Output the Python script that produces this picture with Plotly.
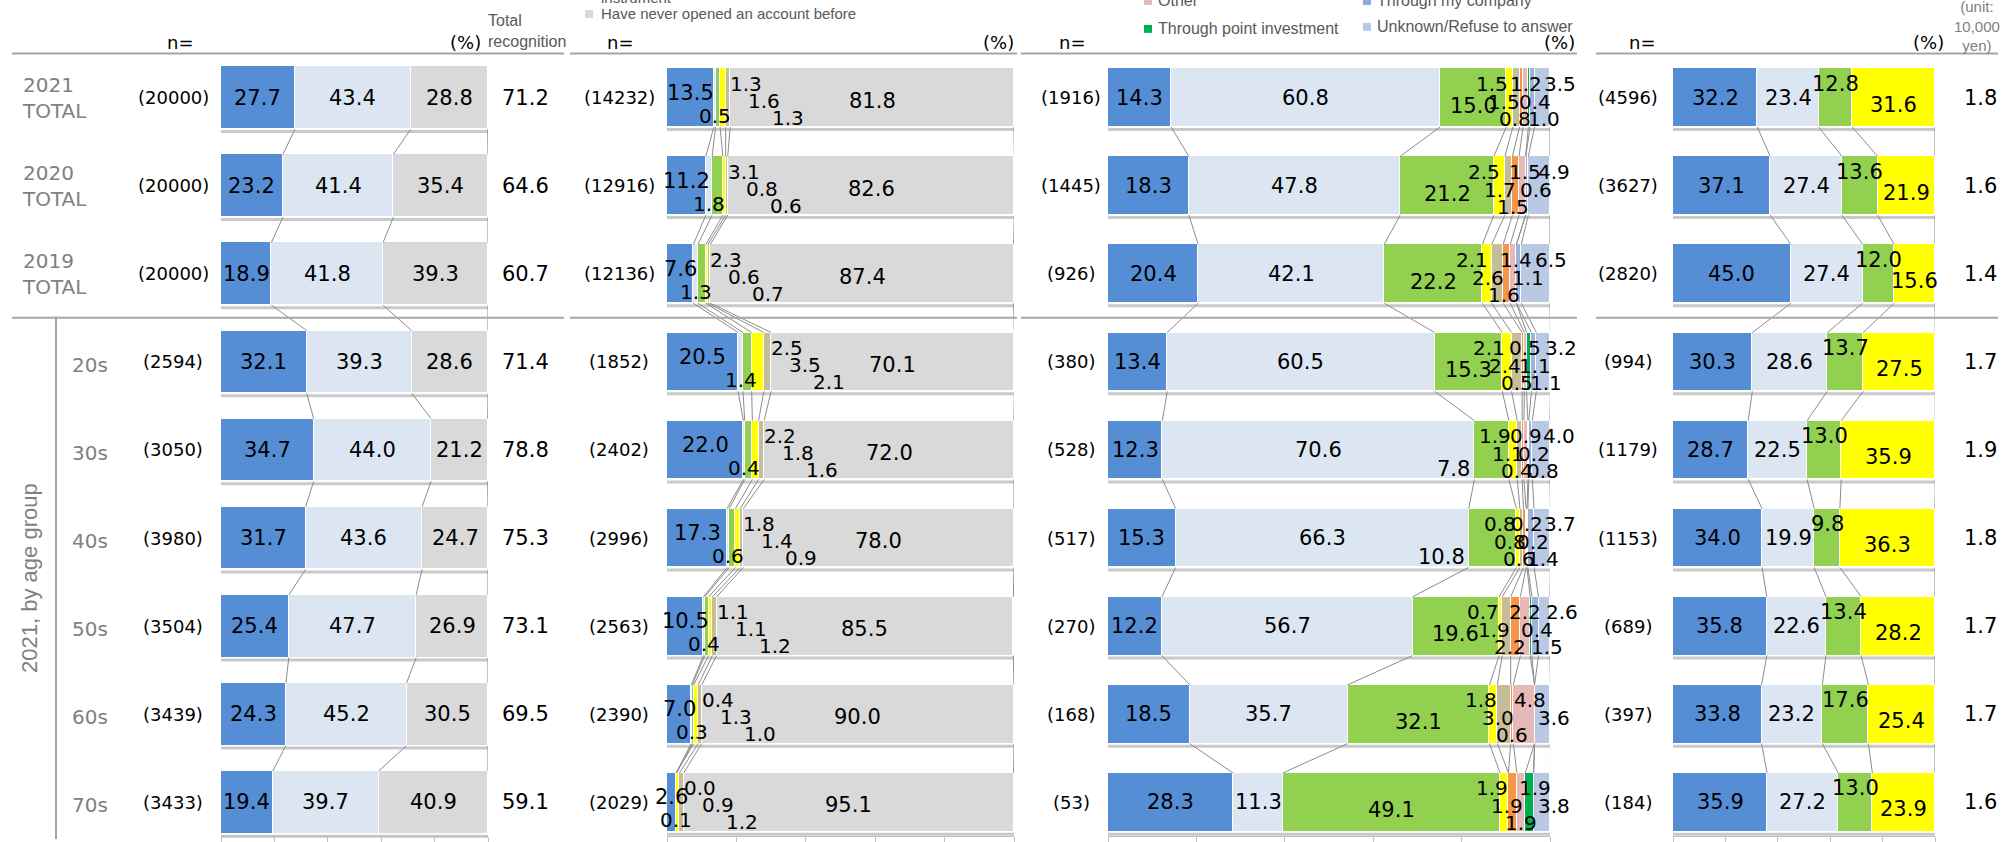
import plotly.graph_objects as go

W, H = 2008, 842
ROW0, PITCH = 98.0, 88.4          # pixel centre of first row, row pitch

NUM = "DejaVu Sans, Verdana, sans-serif"
NARROW = "Liberation Sans Narrow, Arial Narrow, Liberation Sans, Arial, sans-serif"
GREYTXT = "#808080"

# ---------------- data ----------------
row_labels = ["2021<br>TOTAL", "2020<br>TOTAL", "2019<br>TOTAL", "20s", "30s", "40s", "50s", "60s", "70s"]
group_label = "2021, by age group"

# panel 1 : recognition
p1_n = [20000, 20000, 20000, 2594, 3050, 3980, 3504, 3439, 3433]
p1_a = [27.7, 23.2, 18.9, 32.1, 34.7, 31.7, 25.4, 24.3, 19.4]
p1_b = [43.4, 41.4, 41.8, 39.3, 44.0, 43.6, 47.7, 45.2, 39.7]
p1_c = [28.8, 35.4, 39.3, 28.6, 21.2, 24.7, 26.9, 30.5, 40.9]
p1_total = [71.2, 64.6, 60.7, 71.4, 78.8, 75.3, 73.1, 69.5, 59.1]

# panel 2 : account opening
p2_n = [14232, 12916, 12136, 1852, 2402, 2996, 2563, 2390, 2029]
p2_a = [13.5, 11.2, 7.6, 20.5, 22.0, 17.3, 10.5, 7.0, 2.6]
p2_b = [0.5, 1.8, 1.3, 1.4, 0.4, 0.6, 0.4, 0.3, 0.1]
p2_c = [1.3, 3.1, 2.3, 2.5, 2.2, 1.8, 1.1, 0.4, 0.0]
p2_d = [1.6, 0.8, 0.6, 3.5, 1.8, 1.4, 1.1, 1.3, 0.9]
p2_e = [1.3, 0.6, 0.7, 2.1, 1.6, 0.9, 1.2, 1.0, 1.2]
p2_never = [81.8, 82.6, 87.4, 70.1, 72.0, 78.0, 85.5, 90.0, 95.1]

# panel 3 : route
p3_n = [1916, 1445, 926, 380, 528, 517, 270, 168, 53]
p3_a = [14.3, 18.3, 20.4, 13.4, 12.3, 15.3, 12.2, 18.5, 28.3]
p3_b = [60.8, 47.8, 42.1, 60.5, 70.6, 66.3, 56.7, 35.7, 11.3]
p3_c = [15.0, 21.2, 22.2, 15.3, 7.8, 10.8, 19.6, 32.1, 49.1]
p3_d = [1.5, 2.5, 2.1, 2.1, 1.9, 0.8, 0.7, 1.8, 1.9]
p3_e = [1.5, 1.7, 2.6, 2.4, 1.1, 0.8, 1.9, 3.0, None]
p3_f = [0.8, 1.5, 1.6, 0.5, 0.4, 0.6, 2.2, 0.6, 1.9]
p3_other = [1.2, 1.5, 1.4, 0.5, 0.9, 0.2, 2.2, 4.8, 1.9]
p3_point = [0.4, None, None, 1.1, 0.2, 0.2, 0.4, None, 1.9]
p3_company = [1.0, 0.6, 1.1, 1.1, 0.8, 1.4, 1.5, None, None]
p3_unknown = [3.5, 4.9, 6.5, 3.2, 4.0, 3.7, 2.6, 3.6, 3.8]

# panel 4 : amount
p4_n = [4596, 3627, 2820, 994, 1179, 1153, 689, 397, 184]
p4_a = [32.2, 37.1, 45.0, 30.3, 28.7, 34.0, 35.8, 33.8, 35.9]
p4_b = [23.4, 27.4, 27.4, 28.6, 22.5, 19.9, 22.6, 23.2, 27.2]
p4_c = [12.8, 13.6, 12.0, 13.7, 13.0, 9.8, 13.4, 17.6, 13.0]
p4_d = [31.6, 21.9, 15.6, 27.5, 35.9, 36.3, 28.2, 25.4, 23.9]
p4_unit = [1.8, 1.6, 1.4, 1.7, 1.9, 1.8, 1.7, 1.7, 1.6]

# ---------------- styles ----------------
BLUE, LBLUE, GREY = "#558ED5", "#DCE6F2", "#D9D9D9"
GREEN, YELLOW, TAN = "#92D050", "#FFFF00", "#C4BD97"
ORANGE, PINK, DGREEN = "#F79646", "#E6B9B8", "#00B050"
COMPANY, UNKNOWN = "#9DB3DC", "#B9C8E3"

rows = list(range(len(row_labels)))

panels = [
    dict(ax="x", px=(221, 488), line=(12, 564), n=p1_n, nx=173, pctx=465, nhx=180, bar=63,
         series=[(p1_a, BLUE), (p1_b, LBLUE), (p1_c, GREY)]),
    dict(ax="x2", px=(667, 1014), line=(570, 1017), n=p2_n, nx=619, pctx=998, nhx=620, bar=59,
         series=[(p2_a, BLUE), (p2_b, LBLUE), (p2_c, GREEN), (p2_d, YELLOW), (p2_e, TAN), (p2_never, GREY)]),
    dict(ax="x3", px=(1108, 1550), line=(1021, 1577), n=p3_n, nx=1071, pctx=1559, nhx=1072, bar=59,
         series=[(p3_a, BLUE), (p3_b, LBLUE), (p3_c, GREEN), (p3_d, YELLOW), (p3_e, TAN), (p3_f, ORANGE),
                 (p3_other, PINK), (p3_point, DGREEN), (p3_company, COMPANY), (p3_unknown, UNKNOWN)]),
    dict(ax="x4", px=(1673, 1935), line=(1596, 1998), n=p4_n, nx=1628, pctx=1928, nhx=1642, bar=59,
         series=[(p4_a, BLUE), (p4_b, LBLUE), (p4_c, GREEN), (p4_d, YELLOW)]),
]

fig = go.Figure()
annotations = []
shapes = []


def fmt(v):
    return f"{v:.1f}"


def pix_ann(text, px, py, size=18, color="#000000", family=NUM, xanchor="center",
            yanchor="middle", align="center", angle=0):
    return dict(text=text, x=px / W, y=1 - py / H, xref="paper", yref="paper", showarrow=False,
                font=dict(size=size, color=color, family=family), xanchor=xanchor,
                yanchor=yanchor, align=align, textangle=angle)


def dat_ann(text, ax, x, row, xanchor="center", xshift=0, yshift=0, size=21):
    return dict(text=text, x=x, y=row, xref=ax, yref="y", showarrow=False, xanchor=xanchor,
                yanchor="middle", xshift=xshift, yshift=yshift,
                font=dict(size=size, color="#000000", family=NUM))


axis_names = []
for k, p in enumerate(panels):
    ax = p["ax"]
    BW = p["bar"] / PITCH
    # bars
    for vals, col in p["series"]:
        fig.add_trace(go.Bar(y=rows, x=vals, orientation="h", xaxis=ax, yaxis="y", width=BW,
                             marker=dict(color=col, line=dict(color="white", width=1)),
                             hoverinfo="skip", showlegend=False))
    # connectors between consecutive rows
    cums = []
    for r in rows:
        c, acc = [], 0.0
        for vals, _ in p["series"]:
            acc += vals[r] or 0.0
            c.append(acc)
        cums.append(c)
    xs, ys = [], []
    for r in rows[:-1]:
        for j in range(len(p["series"])):
            xs += [cums[r][j], cums[r + 1][j], None]
            ys += [r + BW / 2, r + 1 - BW / 2, None]
    fig.add_trace(go.Scatter(x=xs, y=ys, mode="lines", xaxis=ax, yaxis="y",
                             line=dict(color="#8c8c8c", width=1), hoverinfo="skip", showlegend=False))
    # shadows under bars
    for r in rows:
        shapes.append(dict(type="line", xref=ax, yref="y", x0=0, x1=100,
                           y0=r + BW / 2 + 2.5 / PITCH, y1=r + BW / 2 + 2.5 / PITCH,
                           line=dict(color="#c9c9c9", width=3), layer="below"))
    # n labels
    for r in rows:
        annotations.append(pix_ann(f"({p['n'][r]})", p["nx"], ROW0 + PITCH * r, size=18))
    # header
    annotations.append(pix_ann("n=", p["nhx"], 43, size=18))
    annotations.append(pix_ann("(%)", p["pctx"], 43, size=18))
    # header line and separator
    for yv in (-0.5, 2.5):
        shapes.append(dict(type="line", xref="paper", yref="y", x0=p["line"][0] / W, x1=p["line"][1] / W,
                           y0=yv, y1=yv, line=dict(color="#a6a6a6", width=2)))
    axis_names.append(("xaxis" if k == 0 else f"xaxis{k + 1}", p["px"]))

# ---------- value labels ----------
# panel 1 : centred
for r in rows:
    acc = 0.0
    for vals, _ in panels[0]["series"]:
        annotations.append(dat_ann(fmt(vals[r]), "x", acc + vals[r] / 2, r))
        acc += vals[r]
    annotations.append(pix_ann(fmt(p1_total[r]), 525, ROW0 + PITCH * r, size=21))

# panel 2
LV2 = [14, -3, -20]
for r in rows:
    a, b = p2_a[r], p2_b[r]
    annotations.append(dat_ann(fmt(a), "x2", a / 2, r, yshift=5))
    annotations.append(dat_ann(fmt(b), "x2", a + b / 2, r, yshift=-18, size=20))
    small_end = a + b + p2_c[r] + p2_d[r] + p2_e[r]
    for k, (v, dx) in enumerate(zip([p2_c[r], p2_d[r], p2_e[r]], [0, 18, 42])):
        annotations.append(dat_ann(fmt(v), "x2", small_end, r, xanchor="left", xshift=dx - 2,
                                   yshift=LV2[k], size=20))
    annotations.append(dat_ann(fmt(p2_never[r]), "x2", small_end + p2_never[r] / 2, r, yshift=-3))

# panel 3
LV3 = [14, -4, -21]
small3 = [p3_d, p3_e, p3_f, p3_other, p3_point, p3_company, p3_unknown]
for r in rows:
    a, b, c = p3_a[r], p3_b[r], p3_c[r]
    annotations.append(dat_ann(fmt(a), "x3", a / 2, r))
    annotations.append(dat_ann(fmt(b), "x3", a + b / 2, r))
    if c >= 12:
        annotations.append(dat_ann(fmt(c), "x3", a + b + c / 2, r, yshift=-8))
    else:
        annotations.append(dat_ann(fmt(c), "x3", a + b, r, xanchor="right", xshift=-2, yshift=-19))
    items = []
    acc = a + b + c
    for s in small3:
        v = s[r]
        if v is None:
            continue
        items.append((v, acc + v / 2))
        acc += v
    m = len(items)
    for k, (v, xc) in enumerate(items):
        lvl = k % 3
        if k == m - 1 and lvl == 2:
            lvl = 0
        annotations.append(dat_ann(fmt(v), "x3", xc, r, xshift=(k - (m - 1) / 2) * 6,
                                   yshift=LV3[lvl], size=20))

# panel 4
for r in rows:
    a, b, c, d = p4_a[r], p4_b[r], p4_c[r], p4_d[r]
    annotations.append(dat_ann(fmt(a), "x4", a / 2, r))
    annotations.append(dat_ann(fmt(b), "x4", a + b / 2, r))
    annotations.append(dat_ann(fmt(c), "x4", a + b + c / 2, r, yshift=14))
    annotations.append(dat_ann(fmt(d), "x4", a + b + c + d / 2, r, yshift=-7))
    annotations.append(pix_ann(fmt(p4_unit[r]), 1980, ROW0 + PITCH * r, size=21))

# ---------- row labels ----------
for r in rows:
    if r < 3:
        annotations.append(pix_ann(row_labels[r], 20, ROW0 + PITCH * r, size=20, color=GREYTXT,
                                   xanchor="left", align="left"))
    else:
        annotations.append(pix_ann(row_labels[r], 70, ROW0 + PITCH * r + 3, size=20, color=GREYTXT,
                                   xanchor="left", align="left"))
annotations.append(pix_ann(group_label, 30, 580, size=22, color=GREYTXT, family=NARROW, angle=-90))
shapes.append(dict(type="line", xref="paper", yref="paper", x0=56 / W, x1=56 / W, y0=0,
                   y1=1 - 318 / H, line=dict(color="#a6a6a6", width=2)))

# ---------- header texts ----------
annotations.append(pix_ann("Total<br>recognition", 486, 31, size=16, color="#595959", family=NARROW,
                           xanchor="left", align="left"))
annotations.append(pix_ann("(unit:<br>10,000<br>yen)", 1977, 26, size=15, color="#7f7f7f",
                           family=NARROW))
# cropped legend fragments
annotations.append(pix_ann("instrument", 599, -3, size=15, color="#595959", family=NARROW, xanchor="left"))
annotations.append(pix_ann("Have never opened an account before", 599, 14, size=15, color="#595959",
                           family=NARROW, xanchor="left"))
legend_items = [("Other", PINK, 1144, 1), ("Through my company", "#8FA8D8", 1363, 1),
                ("Through point investment", DGREEN, 1144, 29), ("Unknown/Refuse to answer", UNKNOWN, 1363, 27)]
legend_items.append(("", GREY, 585, 14))
for txt, col, lx, ly in legend_items:
    shapes.append(dict(type="rect", xref="paper", yref="paper", x0=lx / W, x1=(lx + 8) / W,
                       y0=1 - (ly + 4) / H, y1=1 - (ly - 4) / H, line=dict(width=0), fillcolor=col))
    if txt:
        annotations.append(pix_ann(txt, lx + 12, ly, size=16, color="#595959", family=NARROW,
                                   xanchor="left"))

layout = dict(
    width=W, height=H, margin=dict(l=0, r=0, t=0, b=0),
    paper_bgcolor="white", plot_bgcolor="white", barmode="stack", bargap=0,
    showlegend=False, annotations=annotations, shapes=shapes,
    yaxis=dict(range=[(H - ROW0) / PITCH, -ROW0 / PITCH], visible=False, fixedrange=True),
)
for name, (x0, x1) in axis_names:
    layout[name] = dict(domain=[x0 / W, x1 / W], range=[0, 100], anchor="free",
                        position=(H - 839) / H, showline=True, linecolor="#bfbfbf", linewidth=1,
                        ticks="outside", tickvals=[0, 20, 40, 60, 80, 100], ticklen=6,
                        tickcolor="#bfbfbf", showticklabels=False, showgrid=False, zeroline=False,
                        fixedrange=True)
fig.update_layout(**layout)
fig.write_html("out.html")
